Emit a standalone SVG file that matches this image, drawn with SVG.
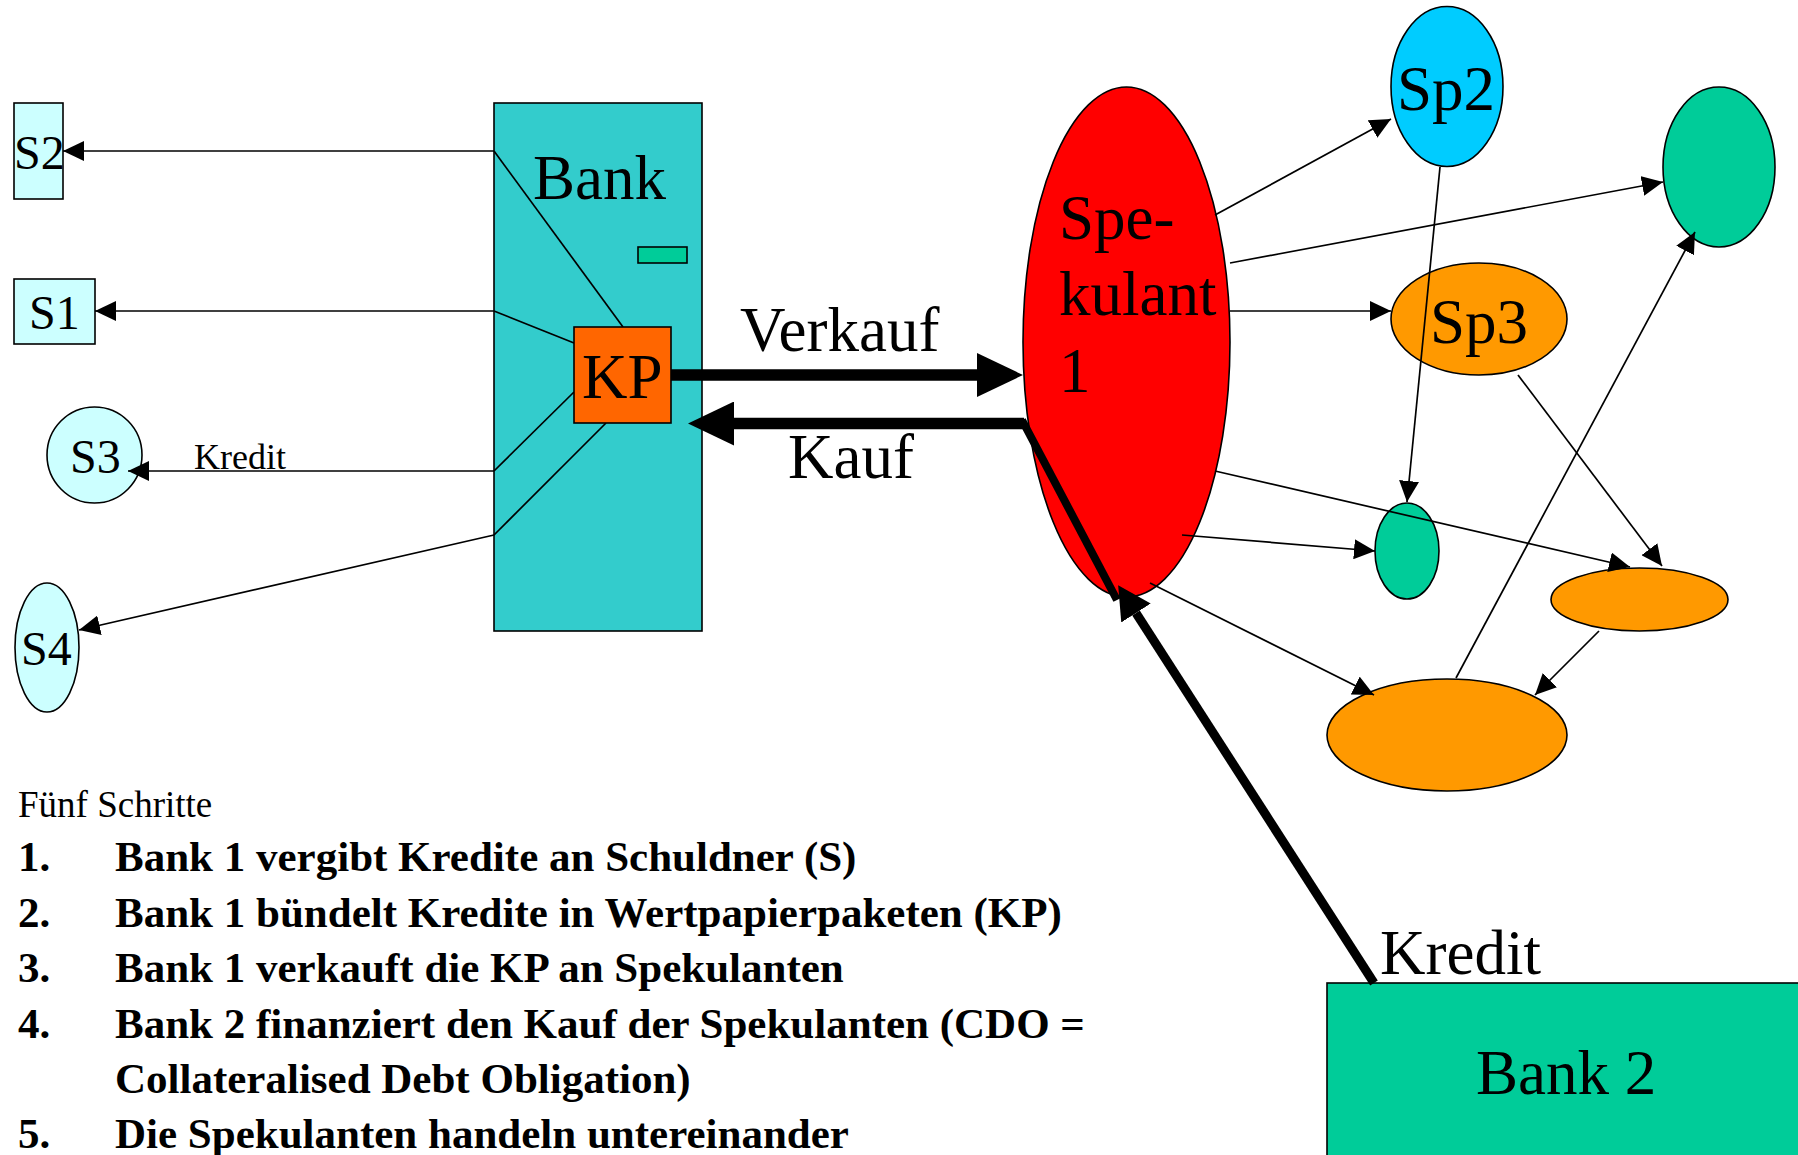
<svg xmlns="http://www.w3.org/2000/svg" width="1798" height="1155" viewBox="0 0 1798 1155">
  <style>
    .shape { stroke: #000; stroke-width: 1.6; }
    .lbl { font-family: "Liberation Serif", "Times New Roman", serif; fill: #000; }
    .big { font-size: 63px; }
    .mid { font-size: 48px; }
    .small { font-size: 37px; }
    .step { font-family: "Liberation Serif", "Times New Roman", serif; font-size: 43px; font-weight: bold; fill: #000; }
    .thin { stroke: #000; stroke-width: 1.7; fill: none; }
    .thinArrow { stroke: #000; stroke-width: 1.7; fill: none; marker-end: url(#head); }
  </style>
  <defs>
    <marker id="head" markerUnits="userSpaceOnUse" viewBox="0 0 21 20" refX="21" refY="10" markerWidth="21" markerHeight="20" orient="auto">
      <path d="M0,0 L21,10 L0,20 Z" fill="#000"/>
    </marker>
    <marker id="bigHead" markerUnits="userSpaceOnUse" viewBox="0 0 46 44" refX="0" refY="22" markerWidth="46" markerHeight="44" orient="auto">
      <path d="M0,0 L46,22 L0,44 Z" fill="#000"/>
    </marker>
    <marker id="creditHead" markerUnits="userSpaceOnUse" viewBox="0 0 33 35" refX="0" refY="17.5" markerWidth="33" markerHeight="35" orient="auto">
      <path d="M0,0 L33,17.5 L0,35 Z" fill="#000"/>
    </marker>
  </defs>

  <rect width="1798" height="1155" fill="#fff"/>

  <!-- Bank 1 with its internal bundling lines -->
  <g id="bank1">
    <rect class="shape" x="494" y="103" width="208" height="528" fill="#33CCCC"/>
    <text class="lbl big" x="533" y="199">Bank</text>
    <rect class="shape" x="638" y="247" width="49" height="16" fill="#00CC99"/>
  </g>

  <!-- debtors -->
  <g id="s2">
    <rect class="shape" x="14" y="103" width="49" height="96" fill="#CCFFFF"/>
    <text class="lbl mid" x="14" y="169">S2</text>
  </g>
  <g id="s1">
    <rect class="shape" x="14" y="279" width="81" height="65" fill="#CCFFFF"/>
    <text class="lbl mid" x="29" y="329">S1</text>
  </g>
  <g id="s3">
    <ellipse class="shape" cx="94.5" cy="455" rx="47.5" ry="48" fill="#CCFFFF"/>
    <text class="lbl mid" x="70" y="473">S3</text>
  </g>
  <g id="s4">
    <ellipse class="shape" cx="47" cy="647.5" rx="32" ry="64.5" fill="#CCFFFF"/>
    <text class="lbl mid" x="21" y="665">S4</text>
  </g>

  <!-- speculators -->
  <g id="spekulant1">
    <ellipse class="shape" cx="1126.5" cy="342" rx="103.5" ry="255" fill="#FF0000"/>
    <text class="lbl big" x="1059" y="239">Spe-</text>
    <text class="lbl big" x="1059" y="315">kulant</text>
    <text class="lbl big" x="1059" y="392">1</text>
  </g>
  <g id="sp2">
    <ellipse class="shape" cx="1447" cy="86.5" rx="56" ry="80" fill="#00CCFF"/>
    <text class="lbl big" x="1397" y="110">Sp2</text>
  </g>
  <g id="green-top">
    <ellipse class="shape" cx="1719" cy="167" rx="56" ry="80" fill="#00CC99"/>
  </g>
  <g id="sp3">
    <ellipse class="shape" cx="1479" cy="319" rx="88" ry="56" fill="#FF9900"/>
    <text class="lbl big" x="1430" y="343">Sp3</text>
  </g>
  <g id="green-small">
    <ellipse class="shape" cx="1407" cy="551" rx="32" ry="48" fill="#00CC99"/>
  </g>
  <g id="orange-small">
    <ellipse class="shape" cx="1639.5" cy="599.5" rx="88.5" ry="31.5" fill="#FF9900"/>
  </g>
  <g id="orange-large">
    <ellipse class="shape" cx="1447" cy="735" rx="120" ry="56" fill="#FF9900"/>
  </g>

  <!-- Bank 2 -->
  <g id="bank2">
    <rect class="shape" x="1327" y="983" width="480" height="190" fill="#00CC99"/>
    <text class="lbl big" x="1476" y="1094">Bank 2</text>
  </g>

  <!-- connectors -->
  <g id="connectors">
    <!-- credits from Bank 1 to the debtors -->
    <line class="thinArrow" x1="494" y1="151" x2="63" y2="151"/>
    <line class="thinArrow" x1="494" y1="311" x2="95" y2="311"/>
    <line class="thinArrow" x1="494" y1="471" x2="128" y2="471"/>
    <line class="thinArrow" x1="494" y1="535" x2="79" y2="630"/>
    <!-- bundling of the credits into KP -->
    <line class="thin" x1="494" y1="151" x2="623" y2="327"/>
    <line class="thin" x1="494" y1="311" x2="574" y2="343"/>
    <line class="thin" x1="574" y1="392" x2="494" y2="471"/>
    <line class="thin" x1="606" y1="423" x2="494" y2="535"/>

    <!-- trading among speculators -->
    <line class="thinArrow" x1="1215" y1="215" x2="1391" y2="119"/>
    <line class="thinArrow" x1="1230" y1="263" x2="1663" y2="182"/>
    <line class="thinArrow" x1="1230" y1="311" x2="1391" y2="311"/>
    <line class="thinArrow" x1="1215" y1="471" x2="1630" y2="567"/>
    <line class="thinArrow" x1="1182" y1="535" x2="1375" y2="551"/>
    <line class="thinArrow" x1="1150" y1="583" x2="1374" y2="695"/>
    <line class="thinArrow" x1="1440" y1="167" x2="1407" y2="502"/>
    <line class="thinArrow" x1="1518" y1="375" x2="1662" y2="566"/>
    <line class="thinArrow" x1="1599" y1="631" x2="1535" y2="695"/>
    <line class="thinArrow" x1="1456" y1="678" x2="1695" y2="232"/>

    <!-- sale and purchase between KP and Spekulant 1 -->
    <line x1="671" y1="375" x2="977" y2="375" stroke="#000" stroke-width="11.5" marker-end="url(#bigHead)"/>
    <line x1="1024" y1="423.5" x2="734" y2="423.5" stroke="#000" stroke-width="11.5" marker-end="url(#bigHead)"/>
    <line x1="1022" y1="420" x2="1117" y2="600" stroke="#000" stroke-width="8"/>

    <!-- credit from Bank 2 -->
    <line x1="1374" y1="983" x2="1136" y2="613" stroke="#000" stroke-width="9" marker-end="url(#creditHead)"/>
  </g>

  <!-- node KP drawn above the bundling lines -->
  <g id="kp">
    <rect class="shape" x="574" y="327" width="97" height="96" fill="#FF6600"/>
    <text class="lbl big" x="582" y="398">KP</text>
  </g>

  <!-- connector labels -->
  <g id="labels">
    <text class="lbl" font-size="36" x="194" y="469">Kredit</text>
    <text class="lbl big" x="740" y="351">Verkauf</text>
    <text class="lbl big" x="788" y="478">Kauf</text>
    <text class="lbl big" x="1380" y="974">Kredit</text>
  </g>

  <!-- the five steps -->
  <g id="steps">
    <text class="lbl small" x="18" y="817">Fünf Schritte</text>
    <text class="step" x="18" y="871">1.</text>
    <text class="step" x="115" y="871">Bank 1 vergibt Kredite an Schuldner (S)</text>
    <text class="step" x="18" y="927">2.</text>
    <text class="step" x="115" y="927">Bank 1 bündelt Kredite in Wertpapierpaketen (KP)</text>
    <text class="step" x="18" y="982">3.</text>
    <text class="step" x="115" y="982">Bank 1 verkauft die KP an Spekulanten</text>
    <text class="step" x="18" y="1038">4.</text>
    <text class="step" x="115" y="1038">Bank 2 finanziert den Kauf der Spekulanten (CDO =</text>
    <text class="step" x="115" y="1093">Collateralised Debt Obligation)</text>
    <text class="step" x="18" y="1148">5.</text>
    <text class="step" x="115" y="1148">Die Spekulanten handeln untereinander</text>
  </g>
</svg>
